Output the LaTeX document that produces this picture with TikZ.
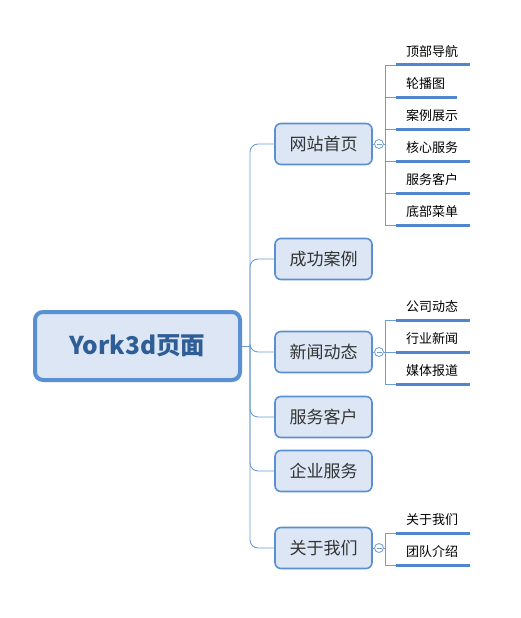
\documentclass[tikz,border=0pt]{standalone}
\usepackage{fontspec}
\setmainfont{Noto Sans CJK SC}
\definecolor{bd}{HTML}{5B8FD3}
\definecolor{bf}{HTML}{DCE6F4}
\definecolor{ln}{HTML}{6E9CD6}
\definecolor{rt}{HTML}{2F5D95}
\definecolor{tx}{HTML}{333333}
\definecolor{ul}{HTML}{4F86CF}
\begin{document}
\begin{tikzpicture}[x=1pt,y=-1pt,
  rootbox/.style={draw=bd, fill=bf, line width=4pt, rounded corners=8pt,
    minimum width=205pt, minimum height=68pt, inner sep=0pt,
    font=\fontsize{24.5}{28}\selectfont\bfseries, text=rt},
  lvbox/.style={draw=bd, fill=bf, line width=1.6pt, rounded corners=6pt,
    minimum width=97pt, minimum height=41pt, inner sep=0pt,
    font=\fontsize{17}{20}\selectfont, text=tx},
  subitem/.style={anchor=south west, inner xsep=10pt, inner ysep=0pt,
    minimum height=27pt, font=\fontsize{13}{15}\selectfont, text=black},
  conn/.style={draw=ln, line width=0.9pt, rounded corners=8pt},
  thin/.style={draw=ln, line width=0.9pt},
  uline/.style={draw=ul, line width=3pt},
  circ/.style={circle, draw=ln, fill=white, line width=0.8pt, minimum size=9pt, inner sep=0pt,
    path picture={\draw[ln, line width=0.8pt] ([xshift=-2.5pt]path picture bounding box.center) -- ([xshift=2.5pt]path picture bounding box.center);}}
]
\useasboundingbox[fill=white] (0,0) rectangle (520,618);

% root
\node[rootbox] (root) at (137.5,346) {York3d页面};
\coordinate (hub) at (250,346);

% level 1
\node[lvbox] (a) at (323.5,144) {网站首页};
\node[lvbox] (b) at (323.5,259) {成功案例};
\node[lvbox] (c) at (323.5,352) {新闻动态};
\node[lvbox] (d) at (323.5,417) {服务客户};
\node[lvbox] (e) at (323.5,471) {企业服务};
\node[lvbox] (f) at (323.5,548) {关于我们};

% trunk connectors
\draw[thin] (root.east) -- (hub);
\foreach \n/\y in {a/144,b/259,c/352,d/417,e/471,f/548}{
  \draw[conn] (hub) -- (250,\y) -- (\n.west);
}

% collapse circles
\node[circ] (ca) at (379,144) {};
\node[circ] (cc) at (379,352) {};
\node[circ] (cf) at (379,548) {};
\draw[thin] (a.east) -- (ca.west);
\draw[thin] (c.east) -- (cc.west);
\draw[thin] (f.east) -- (cf.west);
\coordinate (ja) at (385,144);
\coordinate (jc) at (385,352);
\coordinate (jf) at (385,548);
\draw[thin] (ca.east) -- (ja);
\draw[thin] (cc.east) -- (jc);
\draw[thin] (cf.east) -- (jf);

% sub items of 网站首页
\node[subitem] (a1) at (396,65) {顶部导航};
\node[subitem] (a2) at (396,97) {轮播图};
\node[subitem] (a3) at (396,129) {案例展示};
\node[subitem] (a4) at (396,161) {核心服务};
\node[subitem] (a5) at (396,193) {服务客户};
\node[subitem] (a6) at (396,225) {底部菜单};
\draw[thin] (385,65) -- (385,225);
\foreach \s in {a1,a2,a3,a4,a5,a6}{
  \draw[thin] (\s.south west -| ja) -- (\s.south west);
  \draw[uline] (\s.south west) -- ([xshift=2pt]\s.south east);
}

% sub items of 新闻动态
\node[subitem] (c1) at (396,320) {公司动态};
\node[subitem] (c2) at (396,352) {行业新闻};
\node[subitem] (c3) at (396,384) {媒体报道};
\draw[thin] (385,320) -- (385,384);
\foreach \s in {c1,c2,c3}{
  \draw[thin] (\s.south west -| jc) -- (\s.south west);
  \draw[uline] (\s.south west) -- ([xshift=2pt]\s.south east);
}

% sub items of 关于我们
\node[subitem] (f1) at (396,533) {关于我们};
\node[subitem] (f2) at (396,565) {团队介绍};
\draw[thin] (385,533) -- (385,565);
\foreach \s in {f1,f2}{
  \draw[thin] (\s.south west -| jf) -- (\s.south west);
  \draw[uline] (\s.south west) -- ([xshift=2pt]\s.south east);
}
\end{tikzpicture}
\end{document}
